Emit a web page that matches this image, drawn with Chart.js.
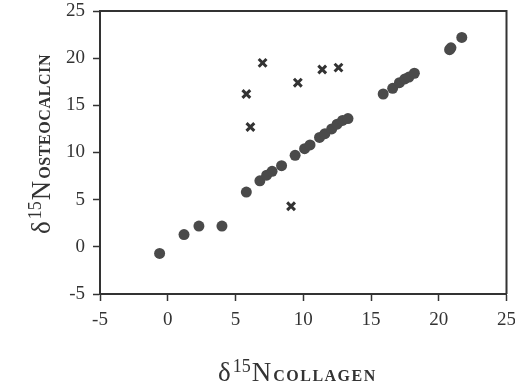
<!DOCTYPE html>
<html>
<head>
<meta charset="utf-8">
<script src="https://cdn.jsdelivr.net/npm/chart.js@4/dist/chart.umd.min.js"></script>
<style>
  html, body { margin: 0; padding: 0; background: #fff; }
  #wrap { width: 515px; height: 386px; }
</style>
</head>
<body>
<div id="wrap"><canvas id="isoChart"></canvas></div>
<script>
// d15N values
const collagenX = [-0.6, 1.2, 2.3, 4.0, 5.8, 6.8, 7.3, 7.7, 8.4, 9.4, 10.1, 10.5, 11.2, 11.6, 12.1, 12.5, 12.9, 13.3, 15.9, 16.6, 17.1, 17.5, 17.8, 18.2, 20.8, 20.9, 21.7];
const osteoY    = [-0.7, 1.3, 2.2, 2.2, 5.8, 7.0, 7.6, 8.0, 8.6, 9.7, 10.4, 10.8, 11.6, 12.0, 12.5, 13.0, 13.4, 13.6, 16.2, 16.8, 17.4, 17.8, 18.0, 18.4, 20.9, 21.1, 22.2];
const outlierX  = [5.8, 6.1, 7.0, 9.6, 11.4, 12.6, 9.1];
const outlierY  = [16.2, 12.7, 19.5, 17.4, 18.8, 19.0, 4.3];
const tickValues = [-5, 0, 5, 10, 15, 20, 25];

const serif = "'Liberation Serif', 'DejaVu Serif', serif";
const ink = '#333';

const toPoints = (xs, ys) => xs.map((x, i) => ({ x: x, y: ys[i] }));

// frame on top/right + axis titles with superscript and small subscript
const framePlugin = {
  id: 'frame',
  afterDraw(chart) {
    const ctx = chart.ctx;
    const a = chart.chartArea;
    ctx.save();
    ctx.strokeStyle = ink;
    ctx.lineWidth = 2;
    ctx.beginPath();
    ctx.moveTo(a.left, a.top);
    ctx.lineTo(a.right, a.top);
    ctx.lineTo(a.right, a.bottom);
    ctx.stroke();

    function label(sub, x, y, spacing) {
      ctx.fillStyle = ink;
      ctx.textBaseline = 'alphabetic';
      ctx.textAlign = 'left';
      let cx = x;
      ctx.font = '27px ' + serif;
      ctx.fillText('δ', cx, y);
      cx += ctx.measureText('δ').width + 2;
      ctx.font = '18px ' + serif;
      ctx.fillText('15', cx, y - 9);
      cx += ctx.measureText('15').width + 1;
      ctx.font = '27px ' + serif;
      ctx.fillText('N', cx, y);
      cx += ctx.measureText('N').width + 2;
      ctx.font = 'bold 16px ' + serif;
      ctx.letterSpacing = spacing;
      ctx.fillText(sub, cx, y);
      ctx.letterSpacing = '0px';
    }

    label('COLLAGEN', 218, 381, '1.5px');

    ctx.translate(50, 234);
    ctx.rotate(-Math.PI / 2);
    label('OSTEOCALCIN', 0, 0, '0.6px');
    ctx.restore();
  }
};

const axisTicks = {
  min: -5,
  max: 25,
  afterBuildTicks: (scale) => { scale.ticks = tickValues.map(v => ({ value: v })); },
  ticks: { color: ink, font: { family: serif, size: 19 }, padding: 8 },
  grid: { drawOnChartArea: false, drawTicks: true, tickLength: 7, tickColor: ink, tickWidth: 1.5 },
  border: { color: ink, width: 2 }
};

new Chart(document.getElementById('isoChart'), {
  type: 'scatter',
  data: {
    datasets: [
      {
        label: 'paired',
        data: toPoints(collagenX, osteoY),
        pointStyle: 'circle',
        pointRadius: 5.5,
        backgroundColor: '#4a4a4a',
        borderColor: '#4a4a4a',
        borderWidth: 0
      },
      {
        label: 'outliers',
        data: toPoints(outlierX, outlierY),
        pointStyle: 'crossRot',
        pointRadius: 5.5,
        borderColor: ink,
        borderWidth: 3
      }
    ]
  },
  options: {
    responsive: true,
    maintainAspectRatio: false,
    animation: false,
    layout: { padding: { top: 11, right: 8, left: 0, bottom: 0 } },
    plugins: { legend: { display: false }, tooltip: { enabled: false } },
    scales: {
      x: Object.assign({ type: 'linear', position: 'bottom',
        afterFit: (s) => { s.height = 92; s.paddingLeft = 0; s.paddingRight = 0; } }, axisTicks),
      y: Object.assign({ type: 'linear', position: 'left',
        afterFit: (s) => { s.width = 100; s.paddingTop = 0; s.paddingBottom = 0; } }, axisTicks)
    }
  },
  plugins: [framePlugin]
});
</script>
</body>
</html>
